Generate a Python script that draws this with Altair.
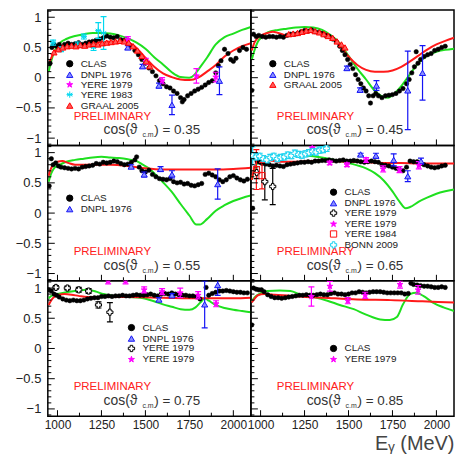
import altair as alt
import pandas as pd

W, H = 204, 136
E_DOMAIN = [945, 2100]
A_DOMAIN = [-1.12, 1.12]

COS_VALUES = ["0.35", "0.45", "0.55", "0.65", "0.75", "0.85"]
X_MAJOR = [1000, 1250, 1500, 1750, 2000]
X_MINOR = [1125, 1375, 1625, 1875]
Y_MAJOR = [-1.0, -0.5, 0.0, 0.5, 1.0]
Y_MINOR = [-1.1, -0.9, -0.8, -0.7, -0.6, -0.4, -0.3, -0.2, -0.1,
           0.1, 0.2, 0.3, 0.4, 0.6, 0.7, 0.8, 0.9, 1.1]

# ---------------- CLAS (E [MeV], asymmetry) ----------------
CLAS_035 = [(958,0.24),(968,0.50),(980,0.55),(995,0.52),(1010,0.55),(1025,0.50),(1040,0.55),(1060,0.57),
            (1080,0.55),(1100,0.56),(1120,0.58),(1140,0.55),(1160,0.57),(1180,0.59),(1200,0.60),(1220,0.62),
            (1240,0.64),(1260,0.66),(1280,0.69),(1300,0.67),(1320,0.66),(1340,0.68),(1360,0.63),(1380,0.62),
            (1400,0.56),(1420,0.52),(1440,0.45),(1460,0.38),(1480,0.30),(1500,0.24),(1520,0.16),(1540,0.10),
            (1560,0.03),(1580,-0.05),(1600,-0.10),(1620,-0.15),(1640,-0.17),(1660,-0.22),(1680,-0.26),
            (1700,-0.33),(1710,-0.40),(1720,-0.36),(1740,-0.30),(1760,-0.26),(1780,-0.22),(1800,-0.19),
            (1820,-0.16),(1840,-0.12),(1860,-0.08),(1880,-0.05),(1900,0.08),(1915,0.20),(1930,0.28),
            (1950,0.47),(1970,0.40),(1985,0.30),(2000,0.27),(2015,0.32),(2035,0.45),(2055,0.50),(2075,0.47)]
CLAS_045 = [(950,-0.21),(960,0.72),(975,0.68),(990,0.70),(1010,0.68),(1030,0.67),(1050,0.68),(1070,0.68),
            (1090,0.67),(1110,0.68),(1130,0.67),(1150,0.70),(1170,0.72),(1190,0.72),(1210,0.73),(1230,0.76),
            (1250,0.78),(1270,0.77),(1290,0.79),(1310,0.76),(1330,0.75),(1350,0.73),(1370,0.70),(1390,0.68),
            (1410,0.64),(1430,0.60),(1450,0.52),(1465,0.45),(1480,0.38),(1495,0.30),(1510,0.22),(1525,0.15),
            (1540,0.05),(1555,-0.03),(1570,-0.10),(1585,-0.17),(1600,-0.22),(1615,-0.30),(1625,-0.42),
            (1640,-0.30),(1655,-0.26),(1670,-0.30),(1690,-0.33),(1710,-0.30),(1730,-0.29),(1750,-0.28),
            (1770,-0.26),(1790,-0.22),(1810,-0.18),(1830,-0.10),(1845,-0.03),(1860,0.08),(1875,0.18),
            (1885,0.43),(1895,0.24),(1910,0.30),(1930,0.35),(1950,0.38),(1970,0.40),(1990,0.45),
            (2010,0.47),(2030,0.50),(2050,0.52)]
CLAS_055 = [(953,0.45),(965,0.90),(975,0.80),(990,0.83),(1005,0.78),(1020,0.76),(1040,0.75),(1060,0.74),
            (1080,0.73),(1100,0.74),(1120,0.73),(1140,0.76),(1160,0.77),(1180,0.78),(1200,0.79),(1220,0.82),
            (1240,0.81),(1260,0.84),(1280,0.83),(1300,0.84),(1320,0.86),(1340,0.85),(1360,0.82),(1380,0.80),
            (1400,0.81),(1420,0.84),(1440,0.88),(1450,0.93),(1465,0.76),(1480,0.70),(1500,0.68),(1520,0.71),
            (1540,0.64),(1560,0.60),(1580,0.57),(1600,0.56),(1620,0.55),(1640,0.57),(1660,0.52),(1680,0.50),
            (1700,0.51),(1720,0.48),(1740,0.49),(1760,0.46),(1780,0.45),(1800,0.47),(1820,0.49),(1840,0.64),
            (1860,0.66),(1880,0.63),(1900,0.60),(1920,0.55),(1940,0.52),(1960,0.55),(1980,0.60),(2000,0.62),
            (2020,0.58),(2040,0.55),(2060,0.53),(2080,0.56)]
CLAS_065 = [(955,0.08),(965,0.92),(980,0.86),(995,0.84),(1010,0.82),(1030,0.81),(1050,0.80),(1070,0.78),
            (1090,0.79),(1110,0.78),(1130,0.77),(1150,0.80),(1170,0.81),(1190,0.82),(1210,0.83),(1230,0.84),
            (1250,0.84),(1270,0.85),(1290,0.84),(1310,0.86),(1330,0.86),(1350,0.87),(1370,0.87),(1390,0.88),
            (1410,0.87),(1430,0.86),(1450,0.87),(1470,0.88),(1490,0.86),(1510,0.86),(1530,0.87),(1550,0.86),
            (1570,0.85),(1590,0.84),(1610,0.85),(1630,0.86),(1650,0.85),(1670,0.84),(1690,0.80),(1710,0.79),
            (1730,0.78),(1750,0.76),(1770,0.74),(1790,0.72),(1810,0.70),(1830,0.76),(1850,0.86),(1870,0.85),
            (1890,0.85),(1910,0.82),(1930,0.80),(1950,0.78),(1970,0.76),(1990,0.75),(2010,0.76),(2030,0.78),
            (2050,0.79)]
CLAS_075 = [(950,0.97),(965,0.95),(980,0.90),(995,0.88),(1010,0.85),(1030,0.82),(1050,0.80),(1070,0.79),
            (1090,0.80),(1110,0.79),(1130,0.79),(1150,0.80),(1170,0.82),(1190,0.83),(1210,0.84),(1230,0.84),
            (1250,0.86),(1270,0.86),(1290,0.87),(1310,0.86),(1330,0.87),(1350,0.87),(1370,0.88),(1390,0.87),
            (1410,0.87),(1430,0.88),(1450,0.89),(1470,0.88),(1490,0.88),(1510,0.89),(1530,0.90),(1550,0.88),
            (1570,0.87),(1590,0.90),(1610,0.91),(1630,0.90),(1650,0.92),(1670,0.90),(1690,0.89),(1710,0.88),
            (1730,0.88),(1750,0.87),(1770,0.87),(1790,0.86),(1810,0.82),(1845,1.01),(1860,0.88),(1880,0.91),
            (1900,0.93),(1920,0.95),(1940,0.95),(1960,0.96),(1980,0.95),(2000,0.94),(2020,0.93),(2040,0.93),
            (2060,0.92),(2080,0.92)]
CLAS_085 = [(950,0.39),(960,1.00),(975,0.98),(990,0.97),(1005,0.97),(1020,0.94),(1040,0.89),(1060,0.86),
            (1080,0.84),(1100,0.84),(1120,0.83),(1140,0.84),(1160,0.85),(1180,0.86),(1200,0.87),(1220,0.88),
            (1240,0.88),(1260,0.89),(1280,0.88),(1300,0.88),(1320,0.89),(1340,0.90),(1360,0.89),(1380,0.89),
            (1400,0.91),(1420,0.92),(1440,0.90),(1460,0.90),(1480,0.89),(1500,0.90),(1520,0.92),(1540,0.92),
            (1560,0.94),(1580,0.93),(1600,0.92),(1620,0.93),(1640,0.94),(1660,0.94),(1680,0.94),(1700,0.93),
            (1720,0.92),(1740,0.92),(1760,0.92),(1780,0.92),(1800,0.92),(1820,0.90),(1840,0.91),(1855,1.08),
            (1870,1.06),(1890,1.05),(1910,1.04),(1930,1.03),(1950,1.03),(1970,1.02),(1990,1.01),(2010,1.01),
            (2030,1.02),(2050,1.01)]

# ---------------- model curves ----------------
RED_035 = [(955,0.26),(965,0.33),(980,0.42),(1000,0.46),(1020,0.48),(1050,0.50),(1100,0.53),(1150,0.54),
           (1200,0.56),(1250,0.59),(1300,0.60),(1350,0.60),(1400,0.58),(1430,0.54),(1460,0.46),(1500,0.33),
           (1550,0.18),(1600,0.07),(1650,0.01),(1700,-0.03),(1750,-0.04),(1800,0.00),(1850,0.10),(1900,0.21),
           (1950,0.35),(2000,0.45),(2050,0.52),(2100,0.57)]
GREEN_035 = [(950,0.10),(965,0.28),(980,0.42),(1000,0.52),(1020,0.59),(1050,0.64),(1100,0.69),(1150,0.72),
             (1200,0.74),(1250,0.74),(1300,0.73),(1350,0.70),(1400,0.65),(1450,0.58),(1500,0.48),(1550,0.34),
             (1600,0.22),(1650,0.09),(1700,0.01),(1750,0.00),(1780,0.05),(1800,0.13),(1850,0.33),(1900,0.55),
             (1950,0.67),(2000,0.73),(2050,0.79),(2100,0.84)]
RED_045 = [(950,0.45),(965,0.58),(985,0.66),(1010,0.71),(1040,0.74),(1070,0.76),(1100,0.74),(1130,0.71),
           (1160,0.70),(1200,0.71),(1250,0.74),(1300,0.76),(1350,0.75),(1400,0.68),(1450,0.53),(1500,0.35),
           (1550,0.21),(1600,0.13),(1650,0.10),(1700,0.10),(1750,0.12),(1800,0.18),(1850,0.27),(1900,0.37),
           (1950,0.47),(2000,0.55),(2050,0.61),(2100,0.66)]
GREEN_045 = [(950,0.30),(965,0.45),(985,0.60),(1010,0.68),(1040,0.75),(1100,0.79),(1150,0.81),(1200,0.83),
             (1250,0.84),(1300,0.83),(1350,0.79),(1400,0.70),(1450,0.57),(1500,0.36),(1550,0.15),(1600,-0.03),
             (1650,-0.22),(1700,-0.32),(1725,-0.33),(1750,-0.29),(1800,-0.14),(1850,0.06),(1900,0.25),
             (1950,0.37),(2000,0.43),(2050,0.46),(2100,0.48)]
RED_055 = [(950,0.62),(965,0.75),(980,0.82),(1000,0.85),(1028,0.86),(1060,0.83),(1100,0.80),(1150,0.80),
           (1200,0.80),(1300,0.80),(1400,0.78),(1500,0.74),(1600,0.72),(1700,0.72),(1800,0.72),(1900,0.72),
           (2000,0.73),(2100,0.75)]
GREEN_055 = [(950,0.52),(965,0.66),(980,0.74),(1000,0.78),(1020,0.81),(1050,0.85),(1100,0.88),(1150,0.90),
             (1200,0.92),(1250,0.93),(1300,0.92),(1350,0.91),(1400,0.89),(1450,0.86),(1480,0.81),(1520,0.74),
             (1560,0.63),(1600,0.51),(1650,0.35),(1700,0.15),(1750,-0.04),(1790,-0.19),(1810,-0.19),
             (1850,-0.10),(1900,0.04),(1950,0.13),(2000,0.20),(2050,0.25),(2100,0.29)]
RED_065 = [(950,0.55),(965,0.75),(980,0.85),(1000,0.89),(1030,0.89),(1060,0.87),(1100,0.85),(1200,0.85),
           (1300,0.86),(1400,0.86),(1500,0.85),(1600,0.84),(1700,0.83),(1800,0.83),(1900,0.82),(2000,0.82),
           (2100,0.82)]
GREEN_065 = [(950,0.55),(965,0.72),(980,0.82),(1000,0.88),(1050,0.93),(1100,0.95),(1200,0.96),(1300,0.94),
             (1400,0.89),(1450,0.86),(1500,0.83),(1550,0.79),(1600,0.74),(1650,0.66),(1700,0.54),(1750,0.36),
             (1790,0.19),(1825,0.08),(1850,0.10),(1900,0.19),(1950,0.26),(2000,0.32),(2050,0.36),(2100,0.39)]
RED_075 = [(950,0.72),(965,0.80),(985,0.86),(1010,0.89),(1040,0.90),(1080,0.89),(1120,0.87),(1170,0.85),
           (1250,0.85),(1400,0.85),(1600,0.84),(1800,0.83),(2000,0.83),(2100,0.84)]
GREEN_075 = [(950,0.83),(965,0.87),(1000,0.90),(1050,0.93),(1100,0.95),(1170,0.97),(1220,0.94),(1260,0.90),
             (1320,0.87),(1400,0.85),(1470,0.84),(1540,0.79),(1600,0.73),(1650,0.69),(1700,0.65),(1750,0.64),
             (1785,0.68),(1815,0.77),(1837,0.83),(1860,0.79),(1900,0.72),(1950,0.67),(2000,0.64),(2050,0.62),
             (2100,0.60)]
RED_085 = [(950,0.76),(965,0.82),(985,0.88),(1020,0.90),(1080,0.89),(1170,0.87),(1360,0.84),(1550,0.81),
           (1740,0.80),(1920,0.78),(2100,0.76)]
GREEN_085 = [(950,0.78),(965,0.84),(985,0.89),(1040,0.95),(1110,0.96),(1170,0.95),(1230,0.89),(1300,0.85),
             (1380,0.79),(1450,0.72),(1530,0.65),(1600,0.56),(1680,0.48),(1735,0.47),(1775,0.52),(1810,0.73),
             (1850,0.90),(1885,0.92),(1925,0.87),(1980,0.76),(2040,0.68),(2100,0.62)]

# ---------------- other experiments (E, value, error) ----------------
DNPL_035 = [(1400,0.50,0.03),(1484,0.19,0.03),(1577,-0.13,0.04),(1651,-0.45,0.16),(1921,-0.05,0.23)]
YERE79S_035 = [(1400,0.63,0.05),(1502,0.27,0.05),(1595,-0.05,0.05),(1790,0.03,0.12),(1900,0.01,0.08)]
YERE83_035 = [(975,0.58,0.04),(1020,0.47,0.04),(1115,0.55,0.04),(1150,0.68,0.04),(1205,0.50,0.05),
              (1232,0.78,0.13),(1262,0.74,0.27)]
GRAAL_035 = [(980,0.42),(1005,0.47),(1030,0.50),(1055,0.52),(1080,0.53),(1105,0.52),(1130,0.54),(1155,0.53),
             (1180,0.55),(1205,0.56),(1230,0.55),(1255,0.57),(1280,0.58),(1305,0.59),(1330,0.60),(1355,0.61),
             (1380,0.60),(1405,0.58),(1430,0.52),(1455,0.45),(1480,0.36),(1505,0.27),(1525,0.19)]
DNPL_045 = [(1491,0.16,0.03),(1566,-0.20,0.03),(1659,-0.13,0.08),(1837,-0.21,0.65),(1921,0.08,0.45)]
GRAAL_045 = [(1160,0.72),(1185,0.73),(1210,0.74),(1235,0.76),(1260,0.78),(1285,0.79),(1310,0.77),(1335,0.75),
             (1360,0.72),(1385,0.69),(1410,0.66),(1435,0.60),(1460,0.55),(1480,0.50)]
DNPL_055 = [(1419,0.77,0.03),(1493,0.64,0.04),(1586,0.73,0.04),(1651,0.64,0.06),(1911,0.48,0.25)]
DNPL_065 = [(1569,0.97,0.02),(1656,0.95,0.04),(1757,0.88,0.10),(1837,0.61,0.09),(1912,0.86,0.05)]
YERE79C_065 = [(978,0.67,0.10),(1024,0.52,0.30),(1069,0.44,0.30)]
YERE79S_065 = [(1294,1.08,0.07),(1393,0.83,0.03),(1491,0.80,0.03),(1600,0.88,0.04),(1697,0.73,0.05),
               (1790,0.72,0.05),(1900,0.79,0.06)]
YERE84_065 = [(976,0.72,0.33),(1008,0.62,0.22)]
BONN_065 = [(955,0.95,0.15),(975,0.93,0.05),(995,0.94,0.05),(1015,0.90,0.05),(1035,0.88,0.05),(1055,0.92,0.05),
            (1075,0.94,0.05),(1095,0.90,0.05),(1115,0.92,0.05),(1135,0.93,0.05),(1155,0.96,0.05),
            (1175,0.95,0.05),(1195,0.99,0.05),(1215,0.97,0.05),(1235,0.96,0.05),(1255,0.98,0.05),
            (1275,1.00,0.05),(1295,1.02,0.05),(1315,1.01,0.05),(1335,1.04,0.05),(1355,1.05,0.05),
            (1375,1.07,0.05)]
DNPL_075 = [(1577,0.81,0.03),(1651,0.88,0.03),(1837,0.73,0.39),(1911,1.05,0.17)]
YERE79C_075 = [(991,1.01,0.03),(1056,1.00,0.03),(1121,0.97,0.04),(1177,0.95,0.04),(1233,0.72,0.05),
               (1298,0.60,0.16)]
YERE79S_075 = [(1288,1.12,0.05),(1387,1.12,0.05),(1493,0.97,0.05),(1595,0.94,0.05),(1698,0.92,0.08),
               (1800,0.88,0.06),(1902,0.74,0.05)]
YERE79S_085 = [(1289,0.86,0.16),(1394,1.03,0.08),(1496,0.79,0.05),(1595,0.88,0.05),(1793,1.06,0.06),
               (1896,0.97,0.07)]

# ---------------- styles ----------------
STAR = ("M0,-1L0.2245,-0.309L0.9511,-0.309L0.3633,0.118L0.5878,0.809L0,0.382L-0.5878,0.809"
        "L-0.3633,0.118L-0.9511,-0.309L-0.2245,-0.309Z")
ASTER = "M0,-1L0,1M-0.866,-0.5L0.866,0.5M-0.866,0.5L0.866,-0.5M-1,0L1,0"
STYLE = {
    "CLAS": ("circle", "black", "black"),
    "DNPL 1976": ("triangle-up", "#8a8fff", "#1414f5"),
    "YERE 1979|cross": ("cross", "white", "black"),
    "YERE 1979|star": (STAR, "#ff00ff", "#ff00ff"),
    "YERE 1983": (ASTER, "transparent", "#00d8f0"),
    "YERE 1984": ("square", "transparent", "#ff1010"),
    "BONN 2009": ("cross", "white", "#19d3f0"),
    "GRAAL 2005": ("triangle-up", "#ff5a5a", "#ff0000"),
}

PANELS = [
    (CLAS_035, RED_035, GREEN_035, [("DNPL 1976", DNPL_035), ("YERE 1979|star", YERE79S_035),
                                    ("YERE 1983", YERE83_035), ("GRAAL 2005", GRAAL_035)]),
    (CLAS_045, RED_045, GREEN_045, [("DNPL 1976", DNPL_045), ("GRAAL 2005", GRAAL_045)]),
    (CLAS_055, RED_055, GREEN_055, [("DNPL 1976", DNPL_055)]),
    (CLAS_065, RED_065, GREEN_065, [("DNPL 1976", DNPL_065), ("YERE 1979|cross", YERE79C_065),
                                    ("YERE 1979|star", YERE79S_065), ("YERE 1984", YERE84_065),
                                    ("BONN 2009", BONN_065)]),
    (CLAS_075, RED_075, GREEN_075, [("DNPL 1976", DNPL_075), ("YERE 1979|cross", YERE79C_075),
                                    ("YERE 1979|star", YERE79S_075)]),
    (CLAS_085, RED_085, GREEN_085, [("YERE 1979|star", YERE79S_085)]),
]
LEGEND_POS = [(17, 49), (17, 49), (17, 48), (78, 42), (79, 42), (78, 63)]

FONT = "Liberation Sans"


def make_panel(i):
    clas, red, green, others = PANELS[i]
    left = i % 2 == 0
    bottom = i >= 4
    xs = alt.Scale(domain=E_DOMAIN, nice=False, zero=False)
    ys = alt.Scale(domain=A_DOMAIN, nice=False, zero=False)
    if bottom:
        xaxis = alt.Axis(values=X_MAJOR, format="d", ticks=False, domain=False, grid=False,
                         labelFontSize=12, labelPadding=3, labelFlush=False, labelColor="#222",
                         labelFont=FONT,
                         title=(None if left else "E\u1d67 (MeV)"), titleFontSize=20,
                         titleFontWeight="normal", titleAnchor="end", titlePadding=3,
                         titleColor="#444", titleFont=FONT)
    else:
        xaxis = None
    if left:
        yaxis = alt.Axis(values=Y_MAJOR, format="~g", ticks=False, domain=False, grid=False,
                         labelFontSize=13, labelPadding=7, labelColor="#222", labelFont=FONT,
                         title=None)
    else:
        yaxis = None

    dom = ["CLAS"] + [k for k, _ in others]
    fill_sc = alt.Scale(domain=dom, range=[STYLE[k][1] for k in dom])
    stroke_sc = alt.Scale(domain=dom, range=[STYLE[k][2] for k in dom])
    shape_sc = alt.Scale(domain=dom, range=[STYLE[k][0] for k in dom])
    lx, ly = LEGEND_POS[i]
    leg = alt.Legend(orient="none", legendX=lx, legendY=ly, title=None, labelFontSize=10,
                     labelFont=FONT, labelColor="#222", symbolSize=40, symbolStrokeWidth=1,
                     rowPadding=-1.6, labelOffset=6, padding=0,
                     labelExpr="split(datum.label, '|')[0]")

    def xe(field="E"):
        return alt.X(f"{field}:Q", scale=xs, axis=xaxis)

    def ye(field="A"):
        return alt.Y(f"{field}:Q", scale=ys, axis=yaxis)

    sym_enc = dict(
        fill=alt.Fill("s:N", scale=fill_sc, legend=leg),
        stroke=alt.Stroke("s:N", scale=stroke_sc, legend=leg),
        shape=alt.Shape("s:N", scale=shape_sc, legend=leg),
    )

    df_red = pd.DataFrame(red, columns=["E", "A"])
    df_green = pd.DataFrame(green, columns=["E", "A"])
    df_clas = pd.DataFrame(clas, columns=["E", "A"])
    df_clas["s"] = "CLAS"

    pts, errs = [], []
    for key, vals in others:
        for v in vals:
            pts.append({"E": v[0], "A": v[1], "s": key})
            if len(v) > 2:
                errs.append({"E": v[0], "lo": v[1] - v[2], "hi": v[1] + v[2], "s": key})
    df_pts = pd.DataFrame(pts)
    df_err = pd.DataFrame(errs)

    layers = []
    layers.append(alt.Chart(df_green).mark_line(color="#1fe01f", strokeWidth=2, clip=True,
                                                interpolate="monotone").encode(x=xe(), y=ye()))
    layers.append(alt.Chart(df_red).mark_line(color="#ff1a1a", strokeWidth=2, clip=True,
                                              interpolate="monotone").encode(x=xe(), y=ye()))
    layers.append(alt.Chart(df_clas).mark_point(filled=True, size=20, opacity=1, strokeWidth=0.5,
                                                clip=True).encode(x=xe(), y=ye(), **sym_enc))
    if errs:
        cap_sc = alt.Scale(domain=dom, range=[STYLE[k][2] for k in dom])
        layers.append(alt.Chart(df_err).mark_rule(strokeWidth=1.2, clip=True).encode(
            x=xe(), y=ye("lo"), y2="hi:Q",
            stroke=alt.Stroke("s:N", scale=stroke_sc, legend=None)))
        for f in ("lo", "hi"):
            layers.append(alt.Chart(df_err).mark_tick(orient="horizontal", size=6, thickness=1.2,
                                                      opacity=1, clip=True).encode(
                x=xe(), y=ye(f), color=alt.Color("s:N", scale=cap_sc, legend=None)))
    layers.append(alt.Chart(df_pts).mark_point(filled=True, size=38, opacity=1, strokeWidth=1,
                                               clip=True).encode(x=xe(), y=ye(), **sym_enc))

    # inward frame ticks
    for vals, ln in ((Y_MAJOR, 7), (Y_MINOR, 3.5)):
        layers.append(alt.Chart(pd.DataFrame({"v": vals})).mark_rule(color="black", strokeWidth=1)
                      .encode(y=ye("v"), x=alt.value(0), x2=alt.value(ln)))
    for vals, ln in ((X_MAJOR, 6), (X_MINOR, 3.5)):
        layers.append(alt.Chart(pd.DataFrame({"v": vals})).mark_rule(color="black", strokeWidth=1)
                      .encode(x=xe("v"), y=alt.value(H), y2=alt.value(H - ln)))

    # annotations
    layers.append(alt.Chart(pd.DataFrame({"t": ["PRELIMINARY"]})).mark_text(
        align="left", baseline="middle", fontSize=11.5, color="#ff2020", font=FONT).encode(
        text="t:N", x=alt.value(26), y=alt.value(107)))
    layers.append(alt.Chart(pd.DataFrame({"t": ["cos(\u03d1"]})).mark_text(
        align="left", baseline="alphabetic", fontSize=14, color="#333", font=FONT).encode(
        text="t:N", x=alt.value(56), y=alt.value(125)))
    layers.append(alt.Chart(pd.DataFrame({"t": ["c.m."]})).mark_text(
        align="left", baseline="alphabetic", fontSize=7, color="#333", font=FONT).encode(
        text="t:N", x=alt.value(95), y=alt.value(128)))
    layers.append(alt.Chart(pd.DataFrame({"t": [") = " + COS_VALUES[i]]})).mark_text(
        align="left", baseline="alphabetic", fontSize=13.5, color="#333", font=FONT).encode(
        text="t:N", x=alt.value(107), y=alt.value(125)))

    return alt.layer(*layers).properties(width=W, height=H)


panels = [make_panel(i) for i in range(6)]

chart = (
    alt.concat(*panels, columns=2, spacing=0, bounds="flush")
    .resolve_scale(x="independent", y="independent", fill="independent", stroke="independent",
                   shape="independent", color="independent")
    .resolve_legend(fill="independent", stroke="independent", shape="independent")
    .properties(padding={"left": 6, "top": 0, "right": 0, "bottom": 0})
    .configure_view(stroke="black", strokeWidth=1.5)
)

chart.save("out.html", embed_options={"renderer": "svg", "actions": False})
